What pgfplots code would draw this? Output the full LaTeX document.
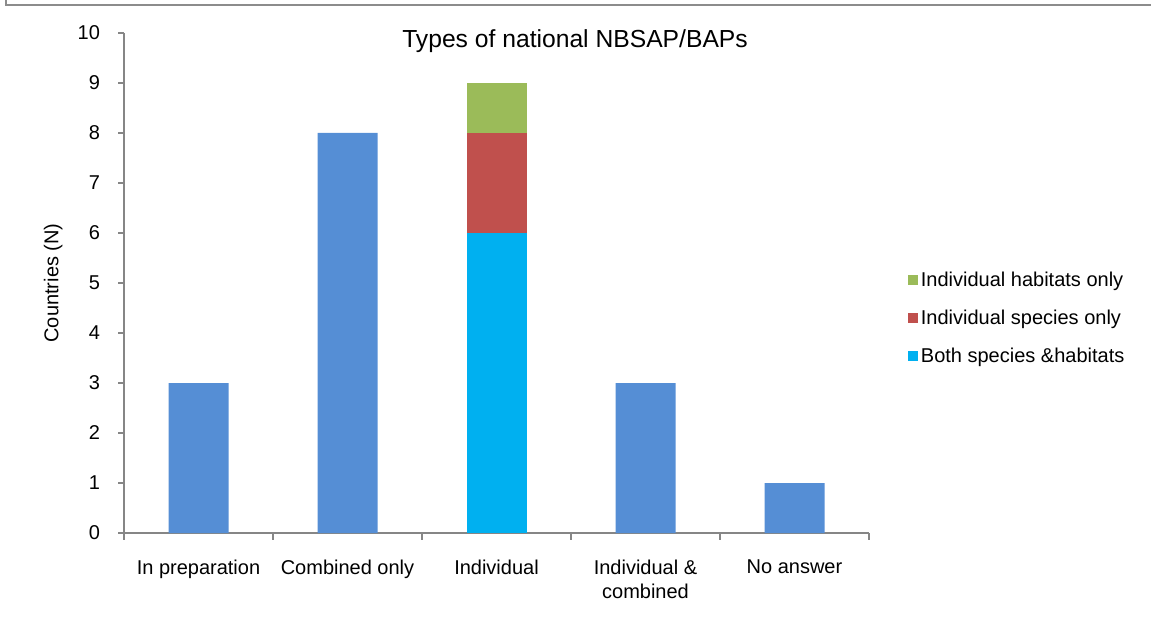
\documentclass[border=0pt]{standalone}
\usepackage{fontspec}
\setmainfont{Liberation Sans}
\usepackage{pgfplots}
\pgfplotsset{compat=1.18}
\definecolor{barblue}{HTML}{558ED5}
\definecolor{bcyan}{HTML}{00B0F0}
\definecolor{bred}{HTML}{C0504D}
\definecolor{bgreen}{HTML}{9BBB59}
\definecolor{axgray}{HTML}{868686}
\definecolor{framegray}{HTML}{8C8C8C}
\begin{document}
\begin{tikzpicture}
\useasboundingbox (0pt,0pt) rectangle (863.25pt,468.75pt);
\draw[framegray, line width=1.9pt] (4.5pt,468.75pt) -- (4.5pt,465pt) -- (863.25pt,465pt);
\begin{axis}[
  at={(93pt,69pt)}, anchor=south west,
  scale only axis, width=558.75pt, height=375pt,
  xmin=-0.5, xmax=4.5, ymin=0, ymax=10,
  ybar stacked, bar width=45pt,
  axis x line*=bottom, axis y line*=left,
  axis line style={axgray, line width=1pt},
  ytick={0,1,...,10},
  xtick={0,1,2,3,4},
  xticklabels={In preparation, Combined only, Individual, {Individual \&\\combined}, No answer},
  minor xtick={-0.5,0.5,1.5,2.5,3.5,4.5},
  tick align=outside,
  major tick length=4.5pt, minor tick length=5pt,
  major x tick style={draw=none},
  tick style={axgray, line width=0.8pt},
  /pgf/number format/assume math mode=true,
  tick label style={font=\fontsize{15}{18}\selectfont},
  xticklabel style={align=center, anchor=north, yshift=-12pt},
  yticklabel style={anchor=east, xshift=-10pt},
  ylabel={Countries (N)},
  ylabel style={font=\fontsize{15}{18}\selectfont, at={(axis description cs:-0.095,0.5)}, anchor=center, rotate=0},
  title={Types of national NBSAP/BAPs},
  title style={font=\fontsize{18.5}{22}\selectfont, at={(axis description cs:0.6054,0.97)}, anchor=base, yshift=-5.5pt},
  legend style={at={(axis description cs:1.0523,0.528)}, anchor=north west, draw=none, fill=none,
    font=\fontsize{15}{18}\selectfont, row sep=12pt, inner sep=0pt},
  legend cell align=left,
  reverse legend,
  legend image code/.code={\fill[#1] (0pt,-3.75pt) rectangle (7.5pt,3.75pt);},
]
\addplot[fill=barblue, draw=none, forget plot] coordinates {(0,3) (1,8) (2,0) (3,3) (4,1)};
\addplot[fill=bcyan, draw=none] coordinates {(0,0) (1,0) (2,6) (3,0) (4,0)};
\addlegendentry{Both species \&habitats}
\addplot[fill=bred, draw=none] coordinates {(0,0) (1,0) (2,2) (3,0) (4,0)};
\addlegendentry{Individual species only}
\addplot[fill=bgreen, draw=none] coordinates {(0,0) (1,0) (2,1) (3,0) (4,0)};
\addlegendentry{Individual habitats only}
\end{axis}
\end{tikzpicture}
\end{document}
